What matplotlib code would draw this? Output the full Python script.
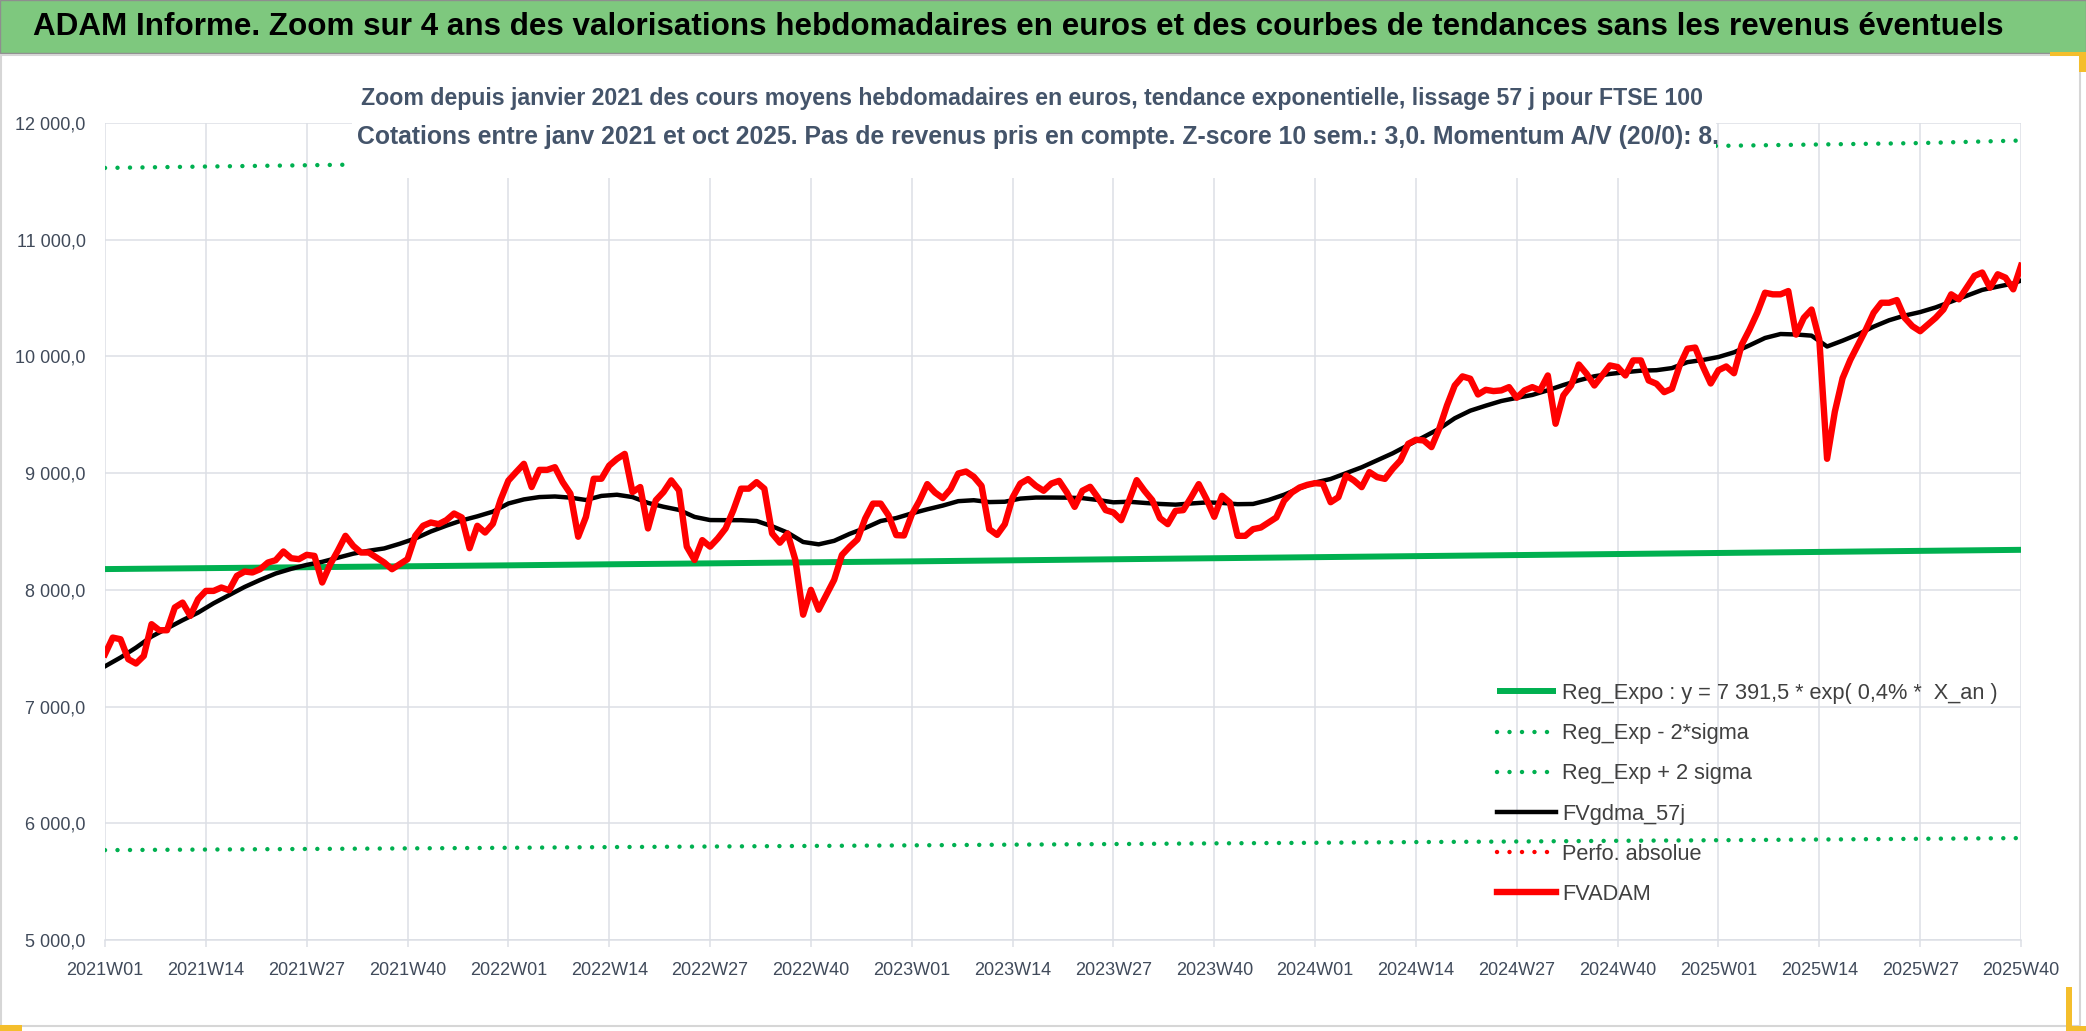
import matplotlib
matplotlib.use("Agg")
import matplotlib.pyplot as plt
from matplotlib import font_manager
from matplotlib.patches import Rectangle

W, H = 2086, 1031

# weekly values 2021W01 .. 2025W40 (248 weeks)
fvadam = [
    7449, 7591, 7577, 7406, 7369, 7434, 7706, 7654, 7654, 7849,
    7891, 7777, 7920, 7991, 7991, 8020, 7997, 8120, 8157, 8149,
    8177, 8234, 8254, 8329, 8271, 8263, 8300, 8291, 8063, 8214,
    8334, 8463, 8377, 8320, 8320, 8277, 8234, 8177, 8220, 8263,
    8463, 8549, 8577, 8563, 8597, 8654, 8620, 8357, 8549, 8491,
    8566, 8772, 8936, 9009, 9080, 8881, 9028, 9028, 9051, 8923,
    8824, 8455, 8625, 8952, 8952, 9065, 9122, 9165, 8838, 8881,
    8526, 8767, 8838, 8938, 8852, 8370, 8256, 8426, 8370, 8441,
    8526, 8682, 8867, 8867, 8923, 8867, 8483, 8404, 8483, 8256,
    7787, 8000, 7830, 7958, 8086, 8299, 8370, 8432, 8611, 8739,
    8739, 8639, 8469, 8466, 8644, 8763, 8906, 8834, 8786, 8863,
    8997, 9014, 8969, 8891, 8520, 8471, 8563, 8791, 8911, 8949,
    8891, 8849, 8911, 8934, 8834, 8711, 8849, 8883, 8791, 8683,
    8663, 8597, 8763, 8940, 8849, 8769, 8614, 8563, 8677, 8683,
    8791, 8906, 8777, 8626, 8806, 8749, 8463, 8463, 8520, 8534,
    8577, 8620, 8763, 8834, 8877, 8900, 8914, 8909, 8751, 8794,
    8980, 8937, 8880, 9009, 8966, 8951, 9037, 9109, 9251, 9286,
    9280, 9223, 9380, 9580, 9751, 9829, 9809, 9674, 9714, 9703,
    9709, 9737, 9646, 9709, 9737, 9709, 9837, 9423, 9666, 9751,
    9931, 9851, 9751, 9837, 9923, 9909, 9837, 9966, 9966, 9794,
    9766, 9694, 9723, 9923, 10066, 10076, 9912, 9768, 9882, 9914,
    9856, 10101, 10230, 10374, 10546, 10532, 10532, 10560, 10187, 10331,
    10402, 10144, 9123, 9526, 9813, 9971, 10101, 10230, 10374, 10460,
    10460, 10483, 10331, 10259, 10216, 10273, 10331, 10402, 10532, 10489,
    10589, 10690, 10719, 10589, 10704, 10675, 10575, 10776,
]
weeks = list(range(len(fvadam)))

# 57-day smoothed curve, read every two weeks
gdma_weeks = list(range(0, 247, 2)) + [247]
fvgdma = [
    7345, 7420, 7505, 7600, 7670, 7740, 7805, 7885, 7955, 8025,
    8085, 8140, 8180, 8214, 8240, 8275, 8310, 8335, 8355, 8395,
    8440, 8500, 8550, 8595, 8630, 8670, 8740,
    8775, 8795, 8800, 8790, 8770, 8805, 8815, 8795, 8745, 8712,
    8685, 8625, 8598, 8597, 8597, 8590, 8545, 8490, 8410, 8390,
    8420, 8480, 8530, 8590, 8615, 8655,
    8690, 8722, 8760, 8768, 8752, 8755, 8782, 8791, 8791, 8790,
    8786, 8770, 8750, 8755, 8745, 8736, 8730, 8740, 8749, 8745,
    8734, 8736, 8770, 8815, 8871, 8920,
    8950, 9000, 9050, 9110, 9170, 9240, 9310, 9380, 9470, 9535,
    9578, 9618, 9645, 9670, 9710, 9755, 9795, 9830, 9850, 9865,
    9878, 9882, 9900, 9951, 9970, 9995,
    10035, 10095, 10158, 10192, 10188, 10178, 10085, 10135, 10190, 10255,
    10310, 10350, 10380, 10420, 10470, 10520, 10570, 10598, 10625, 10650,
]

# axis ticks every 13 weeks
tick_weeks = list(range(0, 248, 13))
tick_labels = [f"{y}W{w:02d}" for y in range(2021, 2026) for w in (1, 14, 27, 40)]

# exponential trend and +/- 2 sigma bands, read at each tick
reg_expo = [8178, 8186, 8194, 8202, 8210, 8219, 8227, 8236, 8244, 8253,
            8262, 8271, 8280, 8289, 8298, 8307, 8316, 8325, 8334, 8343]
reg_low = [5770, 5775, 5780, 5785, 5790, 5796, 5801, 5806, 5811, 5817,
           5822, 5828, 5833, 5839, 5844, 5850, 5855, 5861, 5867, 5873]
reg_high = [11615, 11627, 11638, 11650, 11662, 11673, 11685, 11697, 11708, 11720,
            11732, 11744, 11756, 11768, 11780, 11792, 11804, 11816, 11828, 11850]

title = ("ADAM Informe. Zoom sur 4 ans des valorisations hebdomadaires en euros "
         "et des courbes de tendances sans les revenus éventuels")
sub1 = ("Zoom depuis janvier 2021 des cours moyens hebdomadaires en euros, "
        "tendance exponentielle, lissage 57 j pour FTSE 100")
sub2 = ("Cotations entre janv 2021 et oct 2025. Pas de revenus pris en compte. "
        "Z-score 10 sem.: 3,0. Momentum A/V (20/0): 8.")

names = {f.name for f in font_manager.fontManager.ttflist}
FONT = 'Liberation Sans' if 'Liberation Sans' in names else 'DejaVu Sans'
plt.rcParams['font.family'] = [FONT, 'DejaVu Sans']

GREEN = '#00B050'
RED = '#FF0000'
GRID = '#DCDFE5'
LABEL = '#404A5A'
DOTS = (0, (0.01, 2.8))

fig = plt.figure(figsize=(W / 100, H / 100), dpi=100)
fig.patch.set_facecolor('white')


def fbox(x0, y0, x1, y1, **kw):
    # rectangle given in pixel coords (origin top-left)
    r = Rectangle((x0 / W, 1 - y1 / H), (x1 - x0) / W, (y1 - y0) / H,
                  transform=fig.transFigure, **kw)
    fig.add_artist(r)
    return r


# title band and chart frame
fbox(0, 0, W, 53, facecolor='#7EC87E', edgecolor='#8E8E8E', lw=1, zorder=1)
fbox(1, 55, 2080, 1026, facecolor='none', edgecolor='#D6D6D6', lw=1.5, zorder=1)
for x0, y0, x1, y1 in [(0, 1025, 22, 1031), (2050, 52, 2086, 56), (2079, 52, 2086, 72),
                       (2066, 987, 2072, 1031), (2066, 1026, 2086, 1031)]:
    fbox(x0, y0, x1, y1, facecolor='#F4BE2C', edgecolor='none', zorder=2)

ax = fig.add_axes([105 / W, 1 - 940 / H, (2021 - 105) / W, (940 - 123) / H])
ax.set_facecolor('none')

ax.plot(tick_weeks, reg_expo, color=GREEN, lw=4.3, solid_capstyle='butt',
        label='Reg_Expo : y = 7 391,5 * exp( 0,4% *  X_an )', zorder=3)
ax.plot(tick_weeks, reg_low, color=GREEN, lw=3.2, linestyle=DOTS,
        dash_capstyle='round', label='Reg_Exp - 2*sigma', zorder=3)
ax.plot(tick_weeks, reg_high, color=GREEN, lw=3.2, linestyle=DOTS,
        dash_capstyle='round', label='Reg_Exp + 2 sigma', zorder=3)
ax.plot(gdma_weeks, fvgdma, color='black', lw=3.2, label='FVgdma_57j', zorder=4)
ax.plot([], [], color=RED, lw=3.2, linestyle=DOTS, dash_capstyle='round',
        label='Perfo. absolue')
ax.plot(weeks, fvadam, color=RED, lw=4.6, solid_joinstyle='round',
        label='FVADAM', zorder=5)

ax.set_xlim(0, 247)
ax.set_ylim(5000, 12000)
ax.set_xticks(tick_weeks, tick_labels)
yt = list(range(5000, 12001, 1000))
ax.set_yticks(yt, [f"{v:,.1f}".replace(',', ' ').replace('.', ',') for v in yt])
ax.grid(True, color=GRID, lw=1.1)
ax.set_axisbelow(True)
for s in ['top', 'right', 'left']:
    ax.spines[s].set_visible(False)
ax.spines['bottom'].set_color(GRID)
ax.spines['bottom'].set_linewidth(1.1)
ax.tick_params(axis='y', length=0, pad=14, labelsize=13, labelcolor=LABEL)
ax.tick_params(axis='x', length=5, width=1.1, color=GRID, pad=11,
               labelsize=13, labelcolor=LABEL)

leg = ax.legend(loc='upper left', bbox_to_anchor=(1497 / W, 1 - 683 / H),
                bbox_transform=fig.transFigure, frameon=False, fontsize=15.7,
                borderpad=0, borderaxespad=0, handlelength=2.7,
                handletextpad=0.3, labelspacing=0.88)
for t in leg.get_texts():
    t.set_color('#404040')
leg.set_zorder(6)

# white box of the subtitle hides the top of the plot
fbox(352, 76, 1716, 178, facecolor='white', edgecolor='none', zorder=5)
t0 = fig.text(33 / W, 1 - 27 / H, title, ha='left', va='center',
              fontweight='bold', color='black', fontsize=20, zorder=6)
t1 = fig.text(1032 / W, 1 - 99 / H, sub1, ha='center', va='center',
              fontweight='bold', color='#44546A', fontsize=16, zorder=6)
t2 = fig.text(1038 / W, 1 - 137 / H, sub2, ha='center', va='center',
              fontweight='bold', color='#44546A', fontsize=16, zorder=6)

fig.canvas.draw()
rend = fig.canvas.get_renderer()
for t, target in [(t0, 1968), (t1, 1344), (t2, 1363)]:
    w = t.get_window_extent(rend).width
    t.set_fontsize(t.get_fontsize() * target / w)

fig.savefig('out.png', dpi=100, facecolor='white')
